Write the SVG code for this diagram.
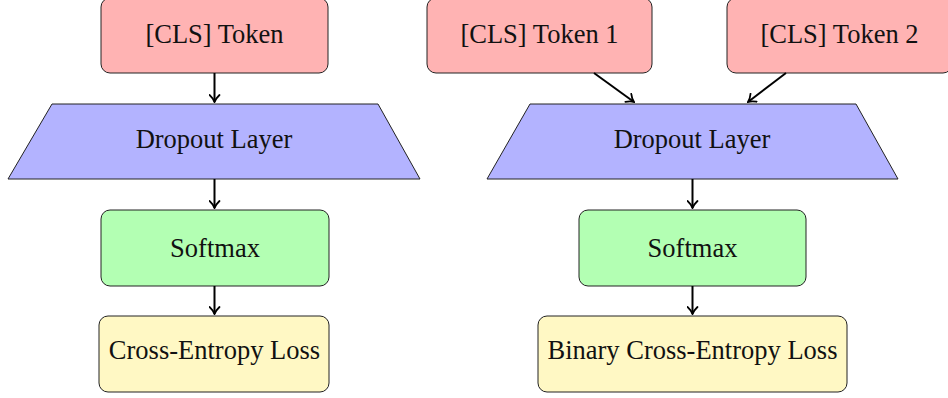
<svg xmlns="http://www.w3.org/2000/svg" width="948" height="398" viewBox="0 0 948 398">
  <style>
    .box { stroke: #222; stroke-width: 1; }
    .token { fill: #ffb3b3; }
    .drop { fill: #b3b3ff; }
    .soft { fill: #b3ffb3; }
    .loss { fill: #fff8c4; }
    .lbl { font-family: "Liberation Serif", "Times New Roman", serif; font-size: 26.5px; fill: #111; text-anchor: middle; }
    .edge { stroke: #000; stroke-width: 2; fill: none; marker-end: url(#arrow); }
  </style>
  <defs>
    <marker id="arrow" viewBox="-7 -6 9 12" refX="1" refY="0" markerWidth="9" markerHeight="12" markerUnits="userSpaceOnUse" orient="auto">
      <path d="M -6 -5 Q -2.5 -1.2 1 0 Q -2.5 1.2 -6 5" fill="none" stroke="#000" stroke-width="1.8" stroke-linecap="round"/>
    </marker>
  </defs>

  <rect width="948" height="398" fill="#ffffff"/>

  <!-- Left pipeline: single token -->
  <g id="cls-token">
    <rect class="box token" x="101" y="-2" width="227" height="75" rx="9"/>
    <text class="lbl" x="214.5" y="43">[CLS] Token</text>
  </g>
  <g id="dropout-left">
    <polygon class="box drop" points="52,104 378,104 420,179 8,179"/>
    <text class="lbl" x="214" y="148">Dropout Layer</text>
  </g>
  <g id="softmax-left">
    <rect class="box soft" x="101" y="210" width="228" height="76" rx="9"/>
    <text class="lbl" x="215" y="257">Softmax</text>
  </g>
  <g id="ce-loss">
    <rect class="box loss" x="99" y="316" width="230" height="76" rx="9"/>
    <text class="lbl" x="214.5" y="359">Cross-Entropy Loss</text>
  </g>

  <!-- Right pipeline: token pair -->
  <g id="cls-token-1">
    <rect class="box token" x="427" y="-2" width="225" height="75" rx="9"/>
    <text class="lbl" x="539.5" y="43">[CLS] Token 1</text>
  </g>
  <g id="cls-token-2">
    <rect class="box token" x="727" y="-2" width="225" height="75" rx="9"/>
    <text class="lbl" x="839.5" y="43">[CLS] Token 2</text>
  </g>
  <g id="dropout-right">
    <polygon class="box drop" points="530,104 856,104 898,179 487,179"/>
    <text class="lbl" x="692" y="148">Dropout Layer</text>
  </g>
  <g id="softmax-right">
    <rect class="box soft" x="579" y="210" width="227" height="76" rx="9"/>
    <text class="lbl" x="692.5" y="257">Softmax</text>
  </g>
  <g id="bce-loss">
    <rect class="box loss" x="538" y="316" width="309" height="76" rx="9"/>
    <text class="lbl" x="692.5" y="359">Binary Cross-Entropy Loss</text>
  </g>

  <!-- Connectors -->
  <g id="connectors">
    <line class="edge" x1="214.5" y1="73" x2="214.5" y2="102"/>
    <line class="edge" x1="214.5" y1="179" x2="214.5" y2="208"/>
    <line class="edge" x1="214.5" y1="286" x2="214.5" y2="314"/>
    <line class="edge" x1="594" y1="73" x2="634" y2="102"/>
    <line class="edge" x1="786" y1="73" x2="748" y2="102"/>
    <line class="edge" x1="692.5" y1="179" x2="692.5" y2="208"/>
    <line class="edge" x1="692.5" y1="286" x2="692.5" y2="314"/>
  </g>
</svg>
